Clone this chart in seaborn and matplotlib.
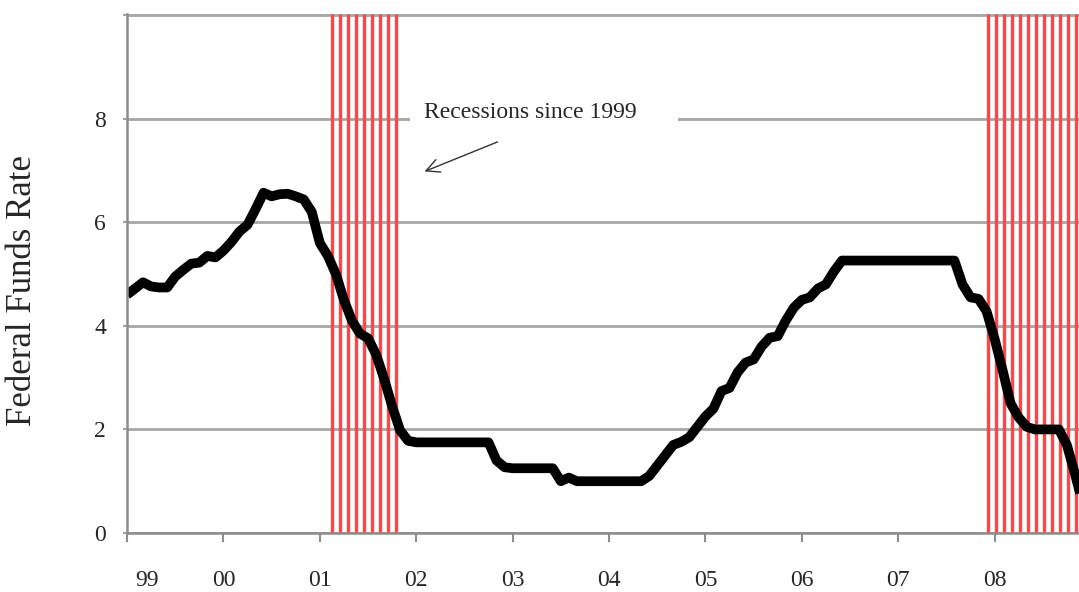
import numpy as np
import matplotlib.pyplot as plt
import matplotlib.transforms as mtransforms
import seaborn as sns
from matplotlib.patches import Rectangle

# monthly federal funds rate, Jan 1999 .. Dec 2008
rate = [4.60, 4.72, 4.84, 4.76, 4.74, 4.74, 4.95, 5.08, 5.20, 5.22, 5.35, 5.32,   # 1999
        5.45, 5.62, 5.82, 5.95, 6.25, 6.57, 6.50, 6.54, 6.55, 6.50, 6.44, 6.20,   # 2000
        5.60, 5.35, 5.00, 4.50, 4.10, 3.85, 3.76, 3.45, 2.98, 2.45, 1.98, 1.78,   # 2001
        1.75, 1.75, 1.75, 1.75, 1.75, 1.75, 1.75, 1.75, 1.75, 1.75, 1.40, 1.27,   # 2002
        1.25, 1.25, 1.25, 1.25, 1.25, 1.25, 1.00, 1.07, 1.00, 1.00, 1.00, 1.00,   # 2003
        1.00, 1.00, 1.00, 1.00, 1.00, 1.10, 1.30, 1.50, 1.70, 1.76, 1.85, 2.05,   # 2004
        2.25, 2.40, 2.74, 2.80, 3.10, 3.29, 3.35, 3.60, 3.77, 3.80, 4.10, 4.35,   # 2005
        4.50, 4.55, 4.72, 4.80, 5.05, 5.26, 5.26, 5.26, 5.26, 5.26, 5.26, 5.26,   # 2006
        5.26, 5.26, 5.26, 5.26, 5.26, 5.26, 5.26, 5.26, 4.80, 4.55, 4.52, 4.28,   # 2007
        3.75, 3.14, 2.50, 2.23, 2.05, 2.00, 2.00, 2.00, 2.00, 1.70, 1.14, 0.55]   # 2008
first_year = 1999
years = np.arange(1999, 2009)
year_labels = ['99', '00', '01', '02', '03', '04', '05', '06', '07', '08']
y_ticks = [0, 2, 4, 6, 8, 10]
y_labels = ['0', '2', '4', '6', '8', '']

# recession periods (fractional years), drawn as monthly red rules
recessions = [(2001.125, 2001.80), (2007.93, 2008.90)]

t = first_year + np.arange(len(rate)) / 12.0

sns.set_style('white')
plt.rcParams['font.family'] = ['Liberation Serif', 'DejaVu Serif']

fig = plt.figure(figsize=(10.79, 5.92), dpi=100)
ax = fig.add_axes([127 / 1079, 1 - 533 / 592, 952 / 1079, 519 / 592])

ax.set_xlim(1999.0, 1999.0 + 952 / 96.4)
ax.set_ylim(0, 10.02)

for y in y_ticks:
    ax.axhline(y, color='#a6a6a6', lw=2.0, zorder=1)

for start, end in recessions:
    xs = np.arange(start, end + 0.01, 1 / 12.0)
    ax.vlines(xs, 0, 10.02, color='#ff4545', lw=2.4, zorder=2)

sns.lineplot(x=t, y=rate, ax=ax, color='black', lw=7, zorder=4)
ax.lines[-1].set_solid_joinstyle('round')
ax.lines[-1].set_solid_capstyle('butt')

# label for the shaded periods, with a white patch hiding the gridline
ax.add_patch(Rectangle((2001.936, 7.85), 2.78, 0.5, facecolor='white',
                       edgecolor='none', zorder=3))
ax.text(2002.08, 8.12, 'Recessions since 1999', fontsize=17, va='center',
        ha='left', zorder=5)
ax.annotate('', xy=(2002.06, 6.96), xytext=(2002.87, 7.57),
            arrowprops=dict(arrowstyle='->', color='#333333', lw=1.0,
                            mutation_scale=24), zorder=5)

ax.set_xticks(years)
ax.set_xticklabels(year_labels)
ax.set_yticks(y_ticks)
ax.set_yticklabels(y_labels)
ax.tick_params(axis='x', length=6.5, width=1.5, color='#8c8c8c', pad=20,
               labelsize=17, bottom=True)
ax.tick_params(axis='y', length=3, width=1.5, color='#a6a6a6', pad=12,
               labelsize=17, left=True)

# first year label sits a little right of its tick in the original
first_lbl = ax.xaxis.get_major_ticks()[0].label1
first_lbl.set_transform(first_lbl.get_transform() +
                        mtransforms.ScaledTranslation(0.20, 0, fig.dpi_scale_trans))

for side in ['top', 'right']:
    ax.spines[side].set_visible(False)
for side in ['left', 'bottom']:
    ax.spines[side].set_color('#8c8c8c')
    ax.spines[side].set_linewidth(1.8)
    ax.spines[side].set_zorder(6)

ax.set_ylabel('Federal Funds Rate', fontsize=25, va='center')
ax.yaxis.set_label_coords(-0.110, 0.468)
ax.set_xlabel('')

fig.savefig('out.png', dpi=100)
